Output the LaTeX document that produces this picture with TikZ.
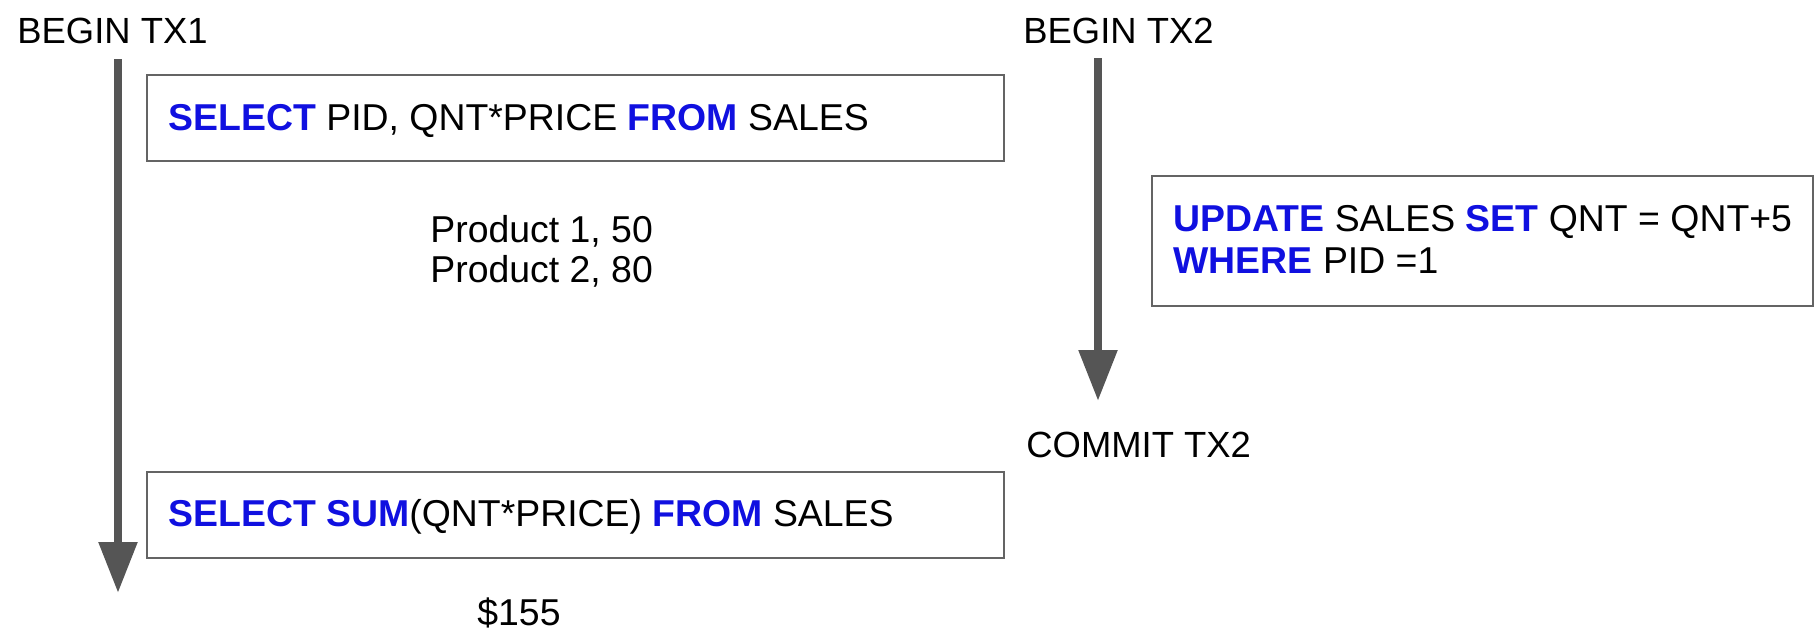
\documentclass[tikz,border=0pt]{standalone}
\usepackage{fontspec}
\setmainfont{Liberation Sans}
\usetikzlibrary{arrows.meta}
\definecolor{kw}{RGB}{16,16,224}
\definecolor{arrowgray}{RGB}{85,85,85}
\definecolor{boxgray}{RGB}{100,100,100}
\begin{document}
\begin{tikzpicture}[x=0.5pt,y=-0.5pt,
  lbl/.style={inner sep=0pt,anchor=base west,font=\fontsize{18.2pt}{22pt}\selectfont},
  txt/.style={inner sep=0pt,anchor=base west,font=\fontsize{18.7pt}{22pt}\selectfont},
  sqlbox/.style={draw=boxgray,line width=1pt,rectangle,inner sep=0pt},
  flow/.style={line width=4.3pt,color=arrowgray,-{Triangle[width=18.5pt,length=25.5pt]}}]
\useasboundingbox (0,0) rectangle (1819,637);
% boxes
\node[sqlbox,minimum width=428.5pt,minimum height=43pt] (b1) at (575.5,118) {};
\node[sqlbox,minimum width=428.5pt,minimum height=43pt] (b2) at (575.5,515) {};
\node[sqlbox,minimum width=330.5pt,minimum height=65pt] (b3) at (1482.5,241) {};
% arrows
\coordinate (a1s) at (118,59);
\coordinate (a1e) at (118,593);
\coordinate (a2s) at (1098,58);
\coordinate (a2e) at (1098,401);
\draw[flow] (a1s) -- (a1e);
\draw[flow] (a2s) -- (a2e);
% labels
\node[lbl] (tx1) at (17,43) {BEGIN TX1};
\node[lbl] (tx2) at (1023,43) {BEGIN TX2};
\node[lbl] (ctx2) at (1026,457) {COMMIT TX2};
\node[txt] (q1) at (168,130) {\textcolor{kw}{\textbf{SELECT}} PID, QNT*PRICE \textcolor{kw}{\textbf{FROM}} SALES};
\node[txt] (r1) at (430,242) {Product 1, 50};
\node[txt] (r2) at (430,282) {Product 2, 80};
\node[txt] (q2) at (168,526) {\textcolor{kw}{\textbf{SELECT SUM}}(QNT*PRICE) \textcolor{kw}{\textbf{FROM}} SALES};
\node[txt] (r3) at (477,625) {\$155};
\node[txt] (u1) at (1173,231) {\textcolor{kw}{\textbf{UPDATE}} SALES \textcolor{kw}{\textbf{SET}} QNT = QNT+5};
\node[txt] (u2) at (1173,273) {\textcolor{kw}{\textbf{WHERE}} PID =1};
\end{tikzpicture}
\end{document}
